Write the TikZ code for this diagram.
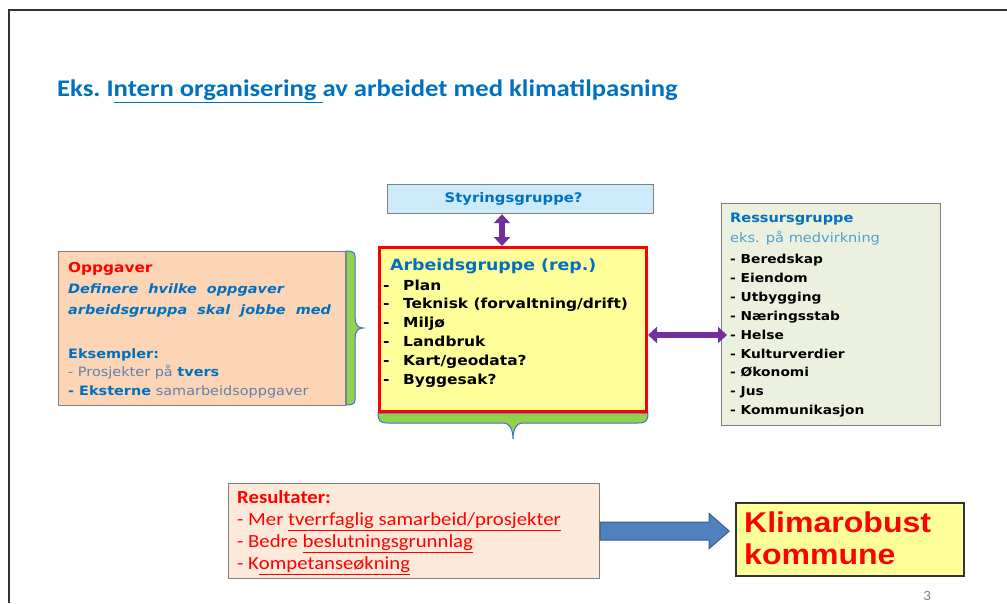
\documentclass[tikz,border=0pt]{standalone}
\usepackage{fontspec}
\setmainfont[FakeStretch=1.12]{Carlito}
\newfontfamily\verd[FakeStretch=1.12]{DejaVu Sans}
\newfontfamily\arial[FakeStretch=1.12]{Liberation Sans}
\usetikzlibrary{arrows.meta,backgrounds}

\definecolor{titleblue}{RGB}{0,112,192}
\definecolor{greyblue}{RGB}{96,128,170}
\definecolor{lightblue}{RGB}{75,160,215}
\definecolor{styrfill}{RGB}{204,234,250}
\definecolor{oppfill}{RGB}{251,213,181}
\definecolor{arbfill}{RGB}{255,255,153}
\definecolor{ressfill}{RGB}{235,241,222}
\definecolor{resfill}{RGB}{253,233,217}
\definecolor{bracegreen}{RGB}{146,208,80}
\definecolor{braceblue}{RGB}{68,114,196}
\definecolor{purp}{RGB}{112,48,160}
\definecolor{arrowblue}{RGB}{79,129,189}
\definecolor{arrowline}{RGB}{56,93,138}
\definecolor{boxgrey}{RGB}{128,128,128}
\definecolor{framegrey}{RGB}{50,50,50}

\tikzset{
  box/.style={draw=boxgrey, line width=1.2pt, inner sep=0pt, anchor=north west},
  txt/.style={inner sep=0pt, anchor=north west, align=left},
  brace/.style={draw=braceblue, line width=1pt, fill=bracegreen},
  twoway/.style={draw=purp, line width=6pt, {Triangle[width=16pt,length=9pt]}-{Triangle[width=16pt,length=9pt]}},
  bigarrow/.style={draw=arrowline, line width=1pt, fill=arrowblue},
}

\begin{document}
\begin{tikzpicture}[x=1pt,y=-1pt]
    \useasboundingbox (0,0) rectangle (1007,603);

    % Slide frame
    \draw[framegrey, line width=2pt] (9,603) -- (9,10) -- (1007,10);

    % Title
    \node[txt, text=titleblue, font=\bfseries\fontsize{23.8}{28}\selectfont] (title) at (57,80)
        {Eks.\ I\underline{ntern organisering }av arbeidet med klimatilpasning};

    % Boxes
    \node[box, fill=styrfill, minimum width=266pt, minimum height=29pt, text=titleblue,
          font=\verd\bfseries\fontsize{13.2}{15}\selectfont] (styr) at (387,184) {\hspace*{-14pt}Styringsgruppe?};
    \node[box, fill=oppfill, minimum width=287pt, minimum height=154pt] (opp) at (58,251) {};
    \node[box, draw=red, line width=3pt, fill=arbfill, minimum width=267pt, minimum height=164pt] (arb) at (378,246) {};
    \node[box, fill=ressfill, minimum width=219pt, minimum height=222pt] (ress) at (721,203) {};
    \node[box, fill=resfill, minimum width=371pt, minimum height=95pt] (res) at (228,483) {};
    \node[box, draw=black!80, line width=2pt, fill=arbfill, minimum width=228pt, minimum height=73pt] (klima) at (735,502) {};

    % Oppgaver text
    \node[txt, font=\verd\bfseries\fontsize{13.7}{21}\selectfont] (opptask) at (68,262.5)
        {\textcolor{red}{Oppgaver}\\
         \textcolor{titleblue}{\fontsize{12.9}{21}\selectfont\itshape Definere\ \ hvilke\ \ oppgaver}\\
         \textcolor{titleblue}{\fontsize{12.9}{21}\selectfont\itshape arbeidsgruppa\ \ skal\ \ jobbe\ \ med}};
    \node[txt, font=\verd\fontsize{12.9}{18.7}\selectfont, text=greyblue] (oppex) at (68,348)
        {\textcolor{titleblue}{\bfseries Eksempler:}\\
         - Prosjekter på \textcolor{titleblue}{\bfseries tvers}\\
         \textcolor{titleblue}{\bfseries - Eksterne} samarbeidsoppgaver};

    % Arbeidsgruppe text
    \node[txt, font=\verd\bfseries\fontsize{15.5}{18}\selectfont, text=titleblue] (arbhead) at (390,258.5)
        {Arbeidsgruppe (rep.)};
    \node[txt, font=\verd\bfseries\fontsize{13.8}{18.8}\selectfont] (arbitems) at (383,279.5)
        {\makebox[20pt][l]{-}Plan\\
         \makebox[20pt][l]{-}Teknisk (forvaltning/drift)\\
         \makebox[20pt][l]{-}Miljø\\
         \makebox[20pt][l]{-}Landbruk\\
         \makebox[20pt][l]{-}Kart/geodata?\\
         \makebox[20pt][l]{-}Byggesak?};

    % Ressursgruppe text
    \node[txt, font=\verd\fontsize{13}{20}\selectfont] (resshead) at (730,213)
        {\textcolor{titleblue}{\bfseries Ressursgruppe}\\ \textcolor{lightblue}{eks. på medvirkning}};
    \node[txt, font=\verd\bfseries\fontsize{12.3}{18.9}\selectfont] (ressitems) at (730,254)
        {- Beredskap\\- Eiendom\\- Utbygging\\- Næringsstab\\- Helse\\- Kulturverdier\\- Økonomi\\- Jus\\- Kommunikasjon};

    % Resultater and goal
    \node[txt, font=\fontsize{18.5}{22}\selectfont, text=red] (restext) at (237,490)
        {\textbf{Resultater:}\\
         - Mer \underline{tverrfaglig samarbeid/prosjekter}\\
         - Bedre \underline{beslutningsgrunnlag}\\
         - K\underline{ompetanseøkning}};
    \node[txt, font=\arial\bfseries\fontsize{28.6}{31.5}\selectfont, text=red] (klimatext) at (744,512)
        {Klimarobust\\kommune};

    % Page number
    \node[anchor=south, inner sep=0pt, text=gray, font=\fontsize{14}{14}\selectfont] (pagenum) at (927,601) {3};

    % Connectors
    \coordinate (vx) at (502,0);
    \coordinate (hy) at (0,335);
    \draw[twoway] (styr.south -| vx) -- (arb.north -| vx);
    \draw[twoway, shorten >=-6pt] (arb.east |- hy) -- (ress.west |- hy);
    \draw[bigarrow] (res.east) ++(0,-9) -- ++(109,0) -- ++(0,-8.5) -- ++(20,17.5)
        -- ++(-20,17.5) -- ++(0,-8.5) -- ++(-109,0) -- cycle;

    % Braces
    \begin{scope}[on background layer]
        \draw[brace] (opp.north east) .. controls +(9,0) and +(0,-8) .. ++(9,10) -- ++(0,57)
            .. controls +(0,8) and +(-4,0) .. ++(8,10) .. controls +(-4,0) and +(0,-8) .. ++(-8,10)
            -- ++(0,57) .. controls +(0,8) and +(9,0) .. ++(-9,10) -- cycle;
        \draw[brace] (arb.south west) .. controls +(0,8) and +(-8,0) .. ++(10,10) -- ++(115,0)
            .. controls +(8,0) and +(0,-7) .. ++(10,16) .. controls +(0,-7) and +(-8,0) .. ++(10,-16)
            -- ++(115,0) .. controls +(8,0) and +(0,8) .. ++(10,-10) -- cycle;
    \end{scope}
\end{tikzpicture}
\end{document}
